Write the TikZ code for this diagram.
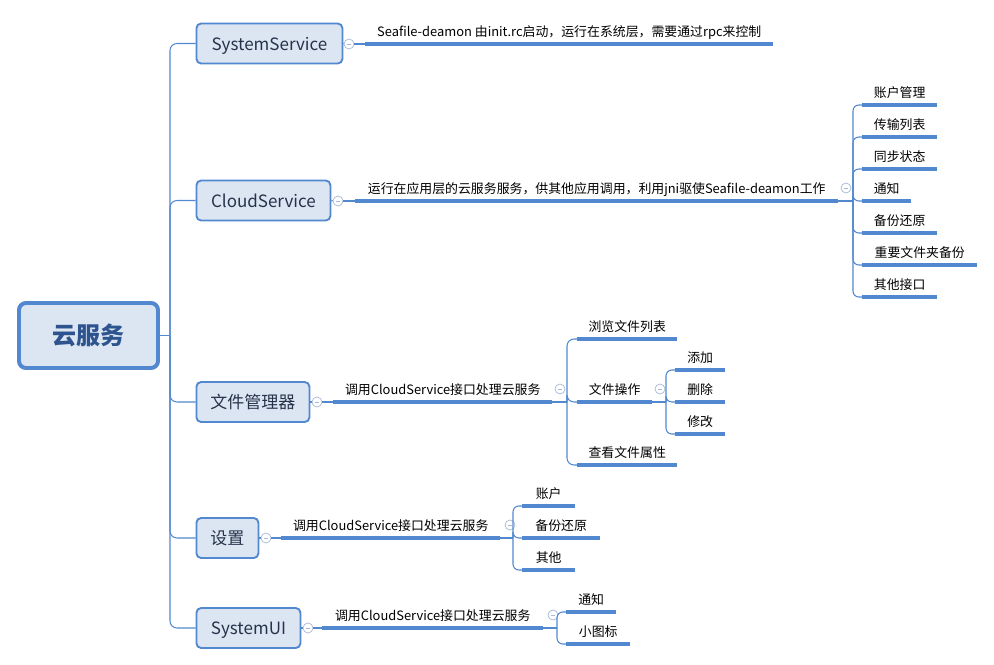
\documentclass[tikz,border=0pt]{standalone}
\usepackage{fontspec}
\setmainfont{Noto Sans CJK SC}
\definecolor{linec}{HTML}{5288D0}
\definecolor{boxfill}{HTML}{DCE6F2}
\definecolor{foldc}{HTML}{A8B8D8}
\definecolor{roottext}{HTML}{2E548F}
\definecolor{topictext}{HTML}{26324A}

\tikzset{
  root/.style={draw=linec, line width=3.4pt, fill=boxfill, rounded corners=6pt,
    minimum width=4.17cm, minimum height=1.95cm, inner sep=0pt,
    font=\fontsize{20.5}{24}\selectfont\bfseries, text=roottext},
  topic/.style={draw=linec, line width=1.6pt, fill=boxfill, rounded corners=4pt,
    minimum height=1.2cm, inner sep=0pt, anchor=west, text height=1.15em, text depth=0em,
    font=\fontsize{14.5}{17}\selectfont, text=topictext},
  sub/.style={anchor=south west, inner sep=0pt, minimum height=0.78cm,
    text height=0.95em, text depth=0.05em, font=\fontsize{11}{13}\selectfont},
  conn/.style={draw=linec, line width=0.9pt},
  uline/.style={draw=linec, line width=3.2pt},
  fold/.style={circle, draw=foldc, fill=white, line width=0.6pt, minimum size=0.3cm,
    inner sep=0pt, path picture={\draw[foldc, line width=0.6pt]
      ([xshift=-2pt]path picture bounding box.center) --
      ([xshift=2pt]path picture bounding box.center);}}
}

\begin{document}
\begin{tikzpicture}[x=0.03cm, y=-0.03cm]
\useasboundingbox (0,0) rectangle (994,665);

% root and main topics
\node[root] (yfw) at (88.5,335.5) {云服务};
\node[topic, minimum width=4.38cm] (ss) at (195.5,43.5) {SystemService};
\node[topic, minimum width=4.02cm] (cs) at (195.5,200.5) {CloudService};
\node[topic, minimum width=3.39cm] (fm) at (195.5,402) {文件管理器};
\node[topic, minimum width=1.86cm] (sz) at (195.5,538) {设置};
\node[topic, minimum width=3.12cm] (ui) at (195.5,628) {SystemUI};

\coordinate (tk) at (170,335.5);
\draw[conn] (yfw.east) -- (tk);
\draw[conn, rounded corners=6pt] (ss.west) -| (tk) |- (ui.west);
\draw[conn, rounded corners=6pt] (tk) |- (cs.west);
\draw[conn, rounded corners=6pt] (tk) |- (fm.west);
\draw[conn, rounded corners=6pt] (tk) |- (sz.west);

% fold marks
\node[fold] (ssf) at (349,44) {};
\node[fold] (csf) at (338,201) {};
\node[fold] (fmf) at (317,402) {};
\node[fold] (szf) at (266,538) {};
\node[fold] (uif) at (308,628) {};
\node[fold] (csx) at (846,188) {};
\node[fold] (fmx) at (560,389) {};
\node[fold] (fox) at (660,389) {};
\node[fold] (szx) at (510,525) {};
\node[fold] (uix) at (553,615) {};

% second level
\node[sub, minimum width=12.24cm] (ssl) at (365,44) {Seafile-deamon 由init.rc启动，运行在系统层，需要通过rpc来控制};
\node[sub, minimum width=14.49cm] (csl) at (355,201) {运行在应用层的云服务服务，供其他应用调用，利用jni驱使Seafile-deamon工作};
\node[sub, minimum width=6.57cm] (fml) at (333,402) {调用CloudService接口处理云服务};
\node[sub, minimum width=6.57cm] (szl) at (281,538) {调用CloudService接口处理云服务};
\node[sub, minimum width=6.63cm] (uil) at (322,628) {调用CloudService接口处理云服务};

\foreach \a/\b in {ss/ssf,cs/csf,fm/fmf,sz/szf,ui/uif}
  \draw[conn] (\a.east) -- (\b.west);
\draw[conn] (ssf.east) -- (ssl.south west);
\draw[conn] (csf.east) -- (csl.south west);
\draw[conn] (fmf.east) -- (fml.south west);
\draw[conn] (szf.east) -- (szl.south west);
\draw[conn] (uif.east) -- (uil.south west);

% CloudService items
\node[sub, minimum width=2.25cm] (cs1) at (862,105) {账户管理};
\node[sub, minimum width=2.25cm] (cs2) at (862,137) {传输列表};
\node[sub, minimum width=2.25cm] (cs3) at (862,169) {同步状态};
\node[sub, minimum width=1.47cm] (cs4) at (862,201) {通知};
\node[sub, minimum width=2.25cm] (cs5) at (862,233) {备份还原};
\node[sub, minimum width=3.45cm] (cs6) at (862,265) {重要文件夹备份};
\node[sub, minimum width=2.25cm] (cs7) at (862,297) {其他接口};

% file manager items
\node[sub, minimum width=3cm] (fm1) at (577,339) {浏览文件列表};
\node[sub, minimum width=2.25cm] (fm2) at (577,402) {文件操作};
\node[sub, minimum width=3cm] (fm3) at (577,465) {查看文件属性};
\node[sub, minimum width=1.5cm] (fo1) at (675,370) {添加};
\node[sub, minimum width=1.5cm] (fo2) at (675,402) {删除};
\node[sub, minimum width=1.5cm] (fo3) at (675,434) {修改};

% settings / systemui items
\node[sub, minimum width=1.59cm] (sz1) at (522,506) {账户};
\node[sub, minimum width=2.34cm] (sz2) at (522,538) {备份还原};
\node[sub, minimum width=1.59cm] (sz3) at (522,570) {其他};
\node[sub, minimum width=1.5cm] (ui1) at (566,612) {通知};
\node[sub, minimum width=1.92cm] (ui2) at (566,644) {小图标};

\coordinate (csj) at (853,201);
\coordinate (fmj) at (567,402);
\coordinate (foj) at (666,402);
\coordinate (szj) at (513,538);
\coordinate (uij) at (557,628);
\draw[conn] (csl.south east) -- (csj);
\draw[conn] (fml.south east) -- (fmj);
\draw[conn] (fm2.south east) -- (foj);
\draw[conn] (szl.south east) -- (szj);
\draw[conn] (uil.south east) -- (uij);

\foreach \n in {cs1,cs2,cs3,cs4,cs5,cs6,cs7}
  \draw[conn, rounded corners=5pt] (csj) |- (\n.south west);
\foreach \n in {fm1,fm2,fm3}
  \draw[conn, rounded corners=6pt] (fmj) |- (\n.south west);
\foreach \n in {fo1,fo2,fo3}
  \draw[conn, rounded corners=5pt] (foj) |- (\n.south west);
\foreach \n in {sz1,sz2,sz3}
  \draw[conn, rounded corners=5pt] (szj) |- (\n.south west);
\foreach \n in {ui1,ui2}
  \draw[conn, rounded corners=5pt] (uij) |- (\n.south west);

% underlines
\foreach \n in {ssl,csl,fml,szl,uil,cs1,cs2,cs3,cs4,cs5,cs6,cs7,fm1,fm2,fm3,fo1,fo2,fo3,sz1,sz2,sz3,ui1,ui2}
  \draw[uline] (\n.south west) -- (\n.south east);
\end{tikzpicture}
\end{document}
